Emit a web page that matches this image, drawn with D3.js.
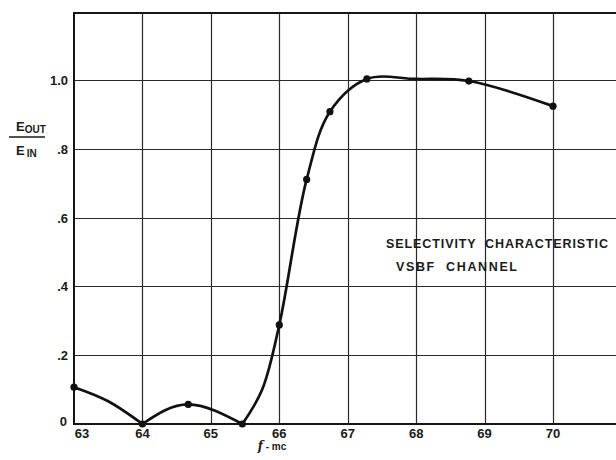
<!DOCTYPE html>
<html lang="en">
<head>
    <meta charset="UTF-8">
    <title>Selectivity characteristic - VSBF channel</title>
    <script src="https://d3js.org/d3.v7.min.js"></script>
    <style>
        body{ margin:0; background:#fff; }
        .grid line{ stroke:#2a2a2a; stroke-width:1.2; }
        .marco{ stroke:#151515; stroke-width:2; fill:none; }
        .curva{ fill:none; stroke:#111; stroke-width:2.7; }
        .bolas{ fill:#111; }
        .ticks text{ font-family:'Liberation Sans', Arial, sans-serif; font-weight:700; font-size:13px; fill:#1a1a1a; }
        .rotulo{ font-family:'Liberation Sans', Arial, sans-serif; font-weight:700; fill:#1a1a1a; }
    </style>
</head>
<body>
<div id="grafico"></div>
<script>
var w = 616, h = 460;

// datos
var frecuencias = [63, 64, 64.67, 65.46, 66, 66.4, 66.74, 67.28, 68.77, 70];
var salidas     = [0.107, 0, 0.057, 0, 0.288, 0.711, 0.908, 1.003, 0.997, 0.924];
// trazo de la curva (puntos medidos + lecturas intermedias del dibujo)
var trazoX = [[63, 63.5, 64], [64, 64.67, 65.46], [65.46, 65.75, 66, 66.4, 66.74, 67.28, 68, 68.77, 70]];
var trazoY = [[0.107, 0.066, 0], [0, 0.057, 0], [0, 0.10, 0.288, 0.711, 0.908, 1.003, 1.003, 0.997, 0.924]];
var ticksX = [63, 64, 65, 66, 67, 68, 69, 70];
var ticksY = [0, 0.2, 0.4, 0.6, 0.8, 1.0];
var etiquetasY = ["0", ".2", ".4", ".6", ".8", "1.0"];

var xScale = d3.scaleLinear().domain([63, 70]).range([74, 553]);
var yScale = d3.scaleLinear().domain([0, 1]).range([424, 80]);
var yTope = 1.195;

var grafico = d3.select("#grafico").append("svg")
    .attr("width", w).attr("height", h);

grafico.append("clipPath").attr("id", "recorte")
    .append("rect").attr("x", 73).attr("y", 12).attr("width", w - 73).attr("height", 414);

// rejilla (redondeada al pixel)
var grid = grafico.append("g").attr("class", "grid");
grid.selectAll(".v").data(ticksX.slice(1)).enter().append("line")
    .attr("class", "v")
    .attr("x1", function(d){ return Math.round(xScale(d)) + 0.5; })
    .attr("x2", function(d){ return Math.round(xScale(d)) + 0.5; })
    .attr("y1", yScale(yTope)).attr("y2", yScale(0));
grid.selectAll(".h").data(ticksY.slice(1)).enter().append("line")
    .attr("class", "h")
    .attr("x1", xScale(63)).attr("x2", w)
    .attr("y1", function(d){ return Math.round(yScale(d)) + 0.5; })
    .attr("y2", function(d){ return Math.round(yScale(d)) + 0.5; });

// marco
grafico.append("path").attr("class", "marco")
    .attr("d", "M" + w + "," + yScale(yTope) + "H" + xScale(63) + "V" + yScale(0) + "H" + w);

// curva: lobulos con spline natural, subida con catmull-rom
var lineaLobulo = d3.line()
    .x(function(d){ return xScale(d[0]); })
    .y(function(d){ return yScale(d[1]); })
    .curve(d3.curveNatural);
var linea = d3.line()
    .x(function(d){ return xScale(d[0]); })
    .y(function(d){ return yScale(d[1]); })
    .curve(d3.curveCatmullRom.alpha(0.5));

grafico.append("g").attr("clip-path", "url(#recorte)")
    .selectAll("path").data(trazoX).enter().append("path")
    .attr("class", "curva")
    .attr("d", function(d, i){
        var pts = d3.zip(d, trazoY[i]);
        return i < 2 ? lineaLobulo(pts) : linea(pts);
    });

grafico.selectAll(".bolas").data(d3.zip(frecuencias, salidas)).enter().append("circle")
    .attr("class", "bolas")
    .attr("cx", function(d){ return xScale(d[0]); })
    .attr("cy", function(d){ return yScale(d[1]); })
    .attr("r", 3.6);

// etiquetas de ejes
var tx = grafico.append("g").attr("class", "ticks");
tx.selectAll(".tx").data(ticksX).enter().append("text")
    .attr("x", function(d, i){ return xScale(d) + (i == 0 ? 8 : 0); })
    .attr("y", 438)
    .attr("text-anchor", "middle")
    .text(function(d){ return d; });
tx.selectAll(".ty").data(etiquetasY).enter().append("text")
    .attr("x", function(d, i){ return i == 0 ? 67 : 68; })
    .attr("y", function(d, i){ return yScale(ticksY[i]) + (i == 0 ? 2 : 5); })
    .attr("text-anchor", "end")
    .text(function(d){ return d; });

grafico.append("text").attr("class", "rotulo")
    .attr("x", 272).attr("y", 450).attr("text-anchor", "middle")
    .style("font-size", "10px")
    .html("<tspan style='font-style:italic;font-family:DejaVu Serif;font-size:12px'>f</tspan> - mc");

// E out / E in
var frac = grafico.append("g").attr("class", "rotulo");
frac.append("text").attr("x", 16).attr("y", 131).style("font-size", "13px")
    .html("E<tspan font-size='10' dy='2'>OUT</tspan>");
frac.append("line").attr("x1", 9).attr("x2", 45).attr("y1", 137).attr("y2", 137)
    .attr("stroke", "#1a1a1a").attr("stroke-width", 1.5);
frac.append("text").attr("x", 16).attr("y", 155).style("font-size", "13px")
    .html("E<tspan font-size='10' dx='2' dy='2'>IN</tspan>");

// titulo dentro del grafico
grafico.append("text").attr("class", "rotulo")
    .attr("x", 386).attr("y", 248).style("font-size", "12.5px")
    .attr("textLength", 222).attr("lengthAdjust", "spacing")
    .attr("xml:space", "preserve")
    .text("SELECTIVITY  CHARACTERISTIC");
grafico.append("text").attr("class", "rotulo")
    .attr("x", 396).attr("y", 271).style("font-size", "12.5px")
    .attr("textLength", 121).attr("lengthAdjust", "spacing")
    .attr("xml:space", "preserve")
    .text("VSBF  CHANNEL");
</script>
</body>
</html>
